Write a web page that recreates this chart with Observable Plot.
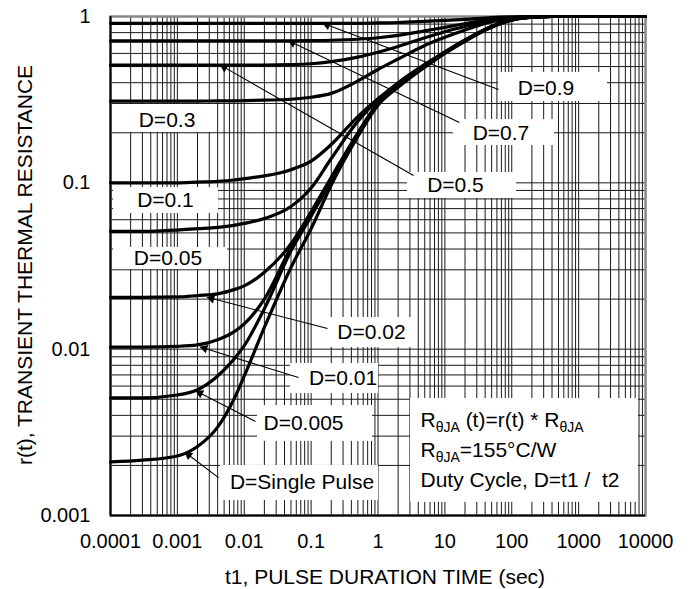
<!DOCTYPE html>
<html><head><meta charset="utf-8">
<script src="https://cdn.jsdelivr.net/npm/d3@7"></script>
<script src="https://cdn.jsdelivr.net/npm/@observablehq/plot@0.6"></script>
<style>body{margin:0;background:#fff} svg text{white-space:pre}</style>
</head><body><div id="chart"></div>
<script>
// ---- data ----
const tPts   = [1e-4, 3e-4, 1e-3, 2e-3, 4e-3, 7e-3, 0.01, 0.02, 0.05, 0.1, 0.2, 0.5, 1, 2, 5, 10, 20, 50, 100, 200, 400, 1e3, 1e4];
const rD09   = [0.91, 0.91, 0.91, 0.91, 0.91, 0.91, 0.91, 0.91, 0.91, 0.91, 0.91, 0.91, 0.915, 0.92, 0.935, 0.948, 0.962, 0.985, 0.995, 1, 1, 1, 1];
const rD07   = [0.715, 0.715, 0.715, 0.715, 0.715, 0.715, 0.715, 0.715, 0.715, 0.717, 0.72, 0.73, 0.745, 0.77, 0.82, 0.86, 0.905, 0.96, 0.985, 0.997, 1, 1, 1];
const rD05   = [0.51, 0.51, 0.51, 0.51, 0.51, 0.51, 0.51, 0.51, 0.513, 0.52, 0.535, 0.57, 0.61, 0.66, 0.745, 0.81, 0.87, 0.945, 0.98, 0.995, 1, 1, 1];
const rD03   = [0.31, 0.31, 0.31, 0.31, 0.311, 0.311, 0.312, 0.314, 0.318, 0.327, 0.345, 0.41, 0.48, 0.555, 0.67, 0.75, 0.83, 0.93, 0.975, 0.995, 1, 1, 1];
const rD01   = [0.1, 0.1, 0.1, 0.101, 0.102, 0.104, 0.106, 0.11, 0.12, 0.135, 0.17, 0.25, 0.32, 0.4, 0.515, 0.613, 0.723, 0.87, 0.957, 0.99, 1, 1, 1];
const rD005  = [0.051, 0.051, 0.052, 0.053, 0.054, 0.0555, 0.057, 0.061, 0.072, 0.093, 0.14, 0.235, 0.315, 0.395, 0.51, 0.61, 0.72, 0.87, 0.956, 0.99, 1, 1, 1];
const rD002  = [0.0205, 0.0205, 0.0206, 0.021, 0.0215, 0.0228, 0.024, 0.029, 0.043, 0.067, 0.108, 0.2, 0.302, 0.385, 0.505, 0.608, 0.718, 0.868, 0.955, 0.99, 1, 1, 1];
const rD001  = [0.0103, 0.0103, 0.0104, 0.0106, 0.0114, 0.0127, 0.0142, 0.02, 0.041, 0.066, 0.105, 0.198, 0.3, 0.383, 0.503, 0.607, 0.717, 0.867, 0.955, 0.99, 1, 1, 1];
const rD0005 = [0.0051, 0.0051, 0.0053, 0.0057, 0.0069, 0.0087, 0.0105, 0.0175, 0.039, 0.063, 0.103, 0.195, 0.298, 0.38, 0.5, 0.605, 0.715, 0.865, 0.953, 0.99, 1, 1, 1];
const rSingle = [0.0021, 0.00215, 0.00228, 0.0026, 0.0034, 0.005, 0.0069, 0.0135, 0.031, 0.053, 0.097, 0.19, 0.293, 0.375, 0.495, 0.6, 0.71, 0.86, 0.95, 0.99, 1, 1, 1];
const seriesNames = ["D=0.9", "D=0.7", "D=0.5", "D=0.3", "D=0.1", "D=0.05", "D=0.02", "D=0.01", "D=0.005", "Single Pulse"];
const seriesValues = [rD09, rD07, rD05, rD03, rD01, rD005, rD002, rD001, rD0005, rSingle];

const xTicks = [1e-4, 1e-3, 1e-2, 1e-1, 1, 10, 100, 1000, 10000];
const xTickLabels = ["0.0001", "0.001", "0.01", "0.1", "1", "10", "100", "1000", "10000"];
const yTicks = [0.001, 0.01, 0.1, 1];
const yTickLabels = ["0.001", "0.01", "0.1", "1"];
const xTitle = "t1, PULSE DURATION TIME (sec)";
const yTitle = "r(t), TRANSIENT THERMAL RESISTANCE";

// curve labels
const labelText = ["D=0.9", "D=0.7", "D=0.5", "D=0.3", "D=0.1", "D=0.05", "D=0.02", "D=0.01", "D=0.005", "D=Single Pulse"];
const labelX = [325, 69, 14.4, 0.0007, 0.000664, 0.000724, 0.80, 0.30, 0.0769, 0.073];
const labelY = [0.369, 0.198, 0.0964, 0.237, 0.0783, 0.0351, 0.0126, 0.00666, 0.00357, 0.00158];
// white label boxes (last one = info box)
const boxX1 = [63.4, 13.4, 2.76, 0.000107, 0.000111, 0.000111, 0.182, 0.0491, 0.01578, 0.00442, 3.06];
const boxX2 = [2700, 435, 117.8, 0.00347, 0.00412, 0.00562, 3.64, 1.017, 0.828, 1.017, 7852];
const boxY1 = [0.308, 0.1677, 0.0805, 0.2007, 0.0654, 0.0301, 0.01023, 0.00541, 0.00279, 0.00123, 0.0012];
const boxY2 = [0.461, 0.240, 0.1154, 0.2956, 0.0937, 0.0409, 0.0155, 0.0082, 0.00458, 0.0020, 0.00505];
// leader lines: from label side to the curve (arrow tip)
const leadFromX = [63.4, 16.5, 3.40, 0.176, 0.0648, 0.01473, 0.00412];
const leadFromY = [0.364, 0.2305, 0.1107, 0.0133, 0.00675, 0.00367, 0.00169];
const leadTipX  = [0.15, 0.046, 0.0044, 0.0028, 0.0022, 0.0019, 0.0013];
const leadTipY  = [0.91, 0.715, 0.51, 0.0205, 0.0103, 0.0056, 0.0024];
// info box
const infoLines = ["R{θJA} (t)=r(t) * R{θJA}", "R{θJA}=155°C/W", "Duty Cycle, D=t1 /  t2"];
const infoX = 4.32;
const infoY = [0.00372, 0.002459, 0.00162];

// grid values
const xGrid = [];
for (let k = -4; k <= 3; k++) for (let m = 1; m <= 9; m++) xGrid.push(m * Math.pow(10, k));
xGrid.push(1e4);
const yGrid = [];
for (let k = -3; k <= -1; k++) for (let m = 1; m <= 9; m++) yGrid.push(m * Math.pow(10, k));
yGrid.push(1);

// ---- build ----
const W = 693, H = 589, mL = 110, mR = 48, mT = 16, mB = 74;
const rows = [];
seriesValues.forEach((vals, s) => vals.forEach((v, i) => rows.push({t: tPts[i], r: v, D: seriesNames[s]})));
const labels = labelText.map((s, i) => ({s, x: labelX[i], y: labelY[i]}));
const boxes = boxX1.map((_, i) => ({x1: boxX1[i], x2: boxX2[i], y1: boxY1[i], y2: boxY2[i]}));
const leads = leadFromX.map((_, i) => ({x1: leadFromX[i], y1: leadFromY[i], x2: leadTipX[i], y2: leadTipY[i]}));
const info = infoLines.map((s, i) => ({s, x: infoX, y: infoY[i]}));

const xs = d3.scaleLog().domain([1e-4, 1e4]).range([mL, W - mR]);
const ys = d3.scaleLog().domain([1e-3, 1]).range([H - mB, mT]);
const heads = leads.map(d => {
  const fx = xs(d.x1), fy = ys(d.y1), tx = xs(d.x2), ty = ys(d.y2);
  const L = Math.hypot(tx - fx, ty - fy), ux = (tx - fx) / L, uy = (ty - fy) / L;
  const cx = tx - ux * 4.5, cy = ty - uy * 4.5;
  return {x: xs.invert(cx), y: ys.invert(cy), a: Math.atan2(ux, -uy) * 180 / Math.PI};
});

const chart = Plot.plot({
  width: W, height: H,
  marginLeft: mL, marginRight: mR, marginTop: mT, marginBottom: mB,
  style: {fontFamily: "'Liberation Sans', Arial, sans-serif", fontSize: "20px", background: "#fff", color: "#000"},
  x: {type: "log", domain: [1e-4, 1e4], ticks: xTicks, tickFormat: d => xTickLabels[xTicks.findIndex(v => Math.abs(v - d) / v < 1e-6)], tickSize: 0, tickPadding: 18, label: null},
  y: {type: "log", domain: [1e-3, 1], ticks: yTicks, tickFormat: d => yTickLabels[yTicks.findIndex(v => Math.abs(v - d) / v < 1e-6)], tickSize: 0, tickPadding: 20, label: null},
  marks: [
    Plot.ruleX(xGrid, {stroke: "#1a1a1a", strokeWidth: 1}),
    Plot.ruleY(yGrid, {stroke: "#1a1a1a", strokeWidth: 1}),
    Plot.rect(boxes, {x1: "x1", x2: "x2", y1: "y1", y2: "y2", fill: "#fff"}),
    Plot.frame({stroke: "#888", strokeWidth: 2.5}),
    Plot.ruleX([1e-4], {stroke: "#000", strokeWidth: 2}),
    Plot.ruleY([1e-3], {stroke: "#000", strokeWidth: 2}),
    Plot.line(rows, {x: "t", y: "r", z: "D", stroke: "#000", strokeWidth: 3.2, curve: "monotone-x"}),
    Plot.link(leads, {x1: "x1", y1: "y1", x2: "x2", y2: "y2", stroke: "#000", strokeWidth: 1.1}),
    Plot.dot(heads, {x: "x", y: "y", rotate: "a", symbol: "triangle", r: 3.3, fill: "#000", stroke: null}),
    Plot.text(labels, {x: "x", y: "y", text: "s", fontSize: 21, textAnchor: "middle"}),
    Plot.text(info, {x: "x", y: "y", text: "s", fontSize: 21, textAnchor: "start"}),
    Plot.text([xTitle], {text: d => d, frameAnchor: "bottom", textAnchor: "middle", lineAnchor: "middle", dx: 7, dy: 62, fontSize: 21}),
    Plot.text([yTitle], {text: d => d, frameAnchor: "left", textAnchor: "middle", lineAnchor: "middle", dx: -85, dy: -1, rotate: -90, fontSize: 21})
  ]
});

// subscripts in the info box
chart.querySelectorAll("text").forEach(t => {
  const s = t.textContent;
  if (!s.includes("{")) return;
  const parts = s.split(/\{([^}]*)\}/);
  t.textContent = "";
  let shifted = false;
  parts.forEach((p, i) => {
    if (p === "") return;
    const ts = document.createElementNS("http://www.w3.org/2000/svg", "tspan");
    ts.textContent = p;
    if (i % 2 === 1) { ts.setAttribute("font-size", "14"); ts.setAttribute("dy", "5"); shifted = true; }
    else if (shifted) { ts.setAttribute("dy", "-5"); shifted = false; }
    t.appendChild(ts);
  });
});
document.getElementById("chart").appendChild(chart);
</script>
</body></html>
